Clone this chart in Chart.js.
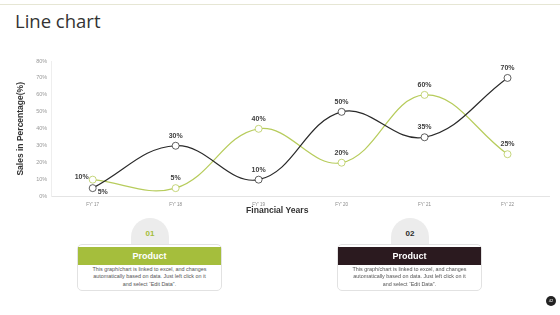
<!DOCTYPE html>
<html>
<head>
<meta charset="utf-8">
<script src="https://cdn.jsdelivr.net/npm/chart.js@4.4.1/dist/chart.umd.min.js"></script>
<style>
  html, body { margin: 0; padding: 0; background: #fff; }
  #page { position: relative; width: 560px; height: 315px; overflow: hidden; font-family: "Liberation Sans", Arial, sans-serif; }
  #topline { position: absolute; left: 0; top: 4px; width: 560px; height: 1px; background: #e6e6d4; }
  #title { position: absolute; left: 15px; top: 8px; font-family: "Open Sans", sans-serif; font-size: 18.5px; color: #333; }
  #chartBox { position: absolute; left: 0; top: 0; width: 560px; height: 220px; }
  #xTitle { position: absolute; left: 246px; top: 205px; font-size: 8.6px; font-weight: bold; color: #333; }
  .dome { position: absolute; top: 218px; width: 38px; height: 27px; background: #ececec; border-radius: 19px 19px 0 0; text-align: center; font-size: 8px; font-weight: bold; line-height: 31px; }
  .card { position: absolute; top: 244px; width: 145px; height: 47px; background: #fff; border: 1px solid #e2e2e2; border-radius: 5px; box-sizing: border-box; }
  .card .head { margin-top: 2px; height: 18px; color: #fff; font-weight: bold; font-size: 9px; text-align: center; line-height: 18px; }
  .card .body { font-size: 5.4px; color: #555; text-align: center; line-height: 7.3px; padding-top: 1px; }
  #pnum { position: absolute; left: 546px; top: 296px; width: 10px; height: 10px; border-radius: 5px; background: #222; color: #fff; font-size: 4px; text-align: center; line-height: 10px; }
</style>
</head>
<body>
<div id="page">
  <div id="topline"></div>
  <div id="title">Line chart</div>
  <div id="chartBox"><canvas id="lineChart"></canvas></div>
  <div id="xTitle">Financial Years</div>

  <div class="dome" style="left:131px; color:#a4bd3a;">01</div>
  <div class="card" style="left:77px;">
    <div class="head" style="background:#a5be3c;">Product</div>
    <div class="body">This graph/chart is linked to excel, and changes<br>automatically based on data. Just left click on it<br>and select “Edit Data”.</div>
  </div>

  <div class="dome" style="left:391px; color:#2a2a2a;">02</div>
  <div class="card" style="left:337px;">
    <div class="head" style="background:#2b1a1f;">Product</div>
    <div class="body">This graph/chart is linked to excel, and changes<br>automatically based on data. Just left click on it<br>and select “Edit Data”.</div>
  </div>

  <div id="pnum">42</div>
</div>
<script>
const years = ["FY' 17", "FY' 18", "FY' 19", "FY' 20", "FY' 21", "FY' 22"];
const seriesDark = [5, 30, 10, 50, 35, 70];
const seriesGreen = [10, 5, 40, 20, 60, 25];
const yTicks = [0, 10, 20, 30, 40, 50, 60, 70, 80];

// draws the "xx%" labels next to each point
const valueLabels = {
  id: 'valueLabels',
  afterDatasetsDraw(chart) {
    const ctx = chart.ctx;
    ctx.save();
    ctx.font = 'bold 7px "Liberation Sans", Arial, sans-serif';
    ctx.fillStyle = '#404040';
    ctx.textBaseline = 'middle';
    const sets = chart.data.datasets;
    sets.forEach((ds, di) => {
      const meta = chart.getDatasetMeta(di);
      meta.data.forEach((pt, i) => {
        const v = ds.data[i];
        const txt = v + '%';
        if (i === 0) {
          const other = sets[1 - di].data[0];
          if (v > other) {
            ctx.textAlign = 'right';
            ctx.fillText(txt, pt.x - 4, pt.y - 3);
          } else {
            ctx.textAlign = 'left';
            ctx.fillText(txt, pt.x + 5, pt.y + 4);
          }
        } else {
          ctx.textAlign = 'center';
          ctx.fillText(txt, pt.x, pt.y - 10);
        }
      });
    });
    ctx.restore();
  }
};

const config = {
  type: 'line',
  data: {
    labels: years,
    datasets: [
      {
        label: 'Series 1',
        data: seriesDark,
        borderColor: '#2a2a2a',
        borderWidth: 1.2,
        pointBackgroundColor: '#fff',
        pointBorderColor: '#3a3a3a',
        pointBorderWidth: 0.8,
        pointRadius: 3.5,
        tension: 0.4
      },
      {
        label: 'Series 2',
        data: seriesGreen,
        borderColor: '#b7cc5c',
        borderWidth: 1.2,
        pointBackgroundColor: '#fff',
        pointBorderColor: '#b7cc5c',
        pointBorderWidth: 0.8,
        pointRadius: 3.5,
        tension: 0.4
      }
    ]
  },
  options: {
    responsive: true,
    maintainAspectRatio: false,
    animation: false,
    layout: { padding: { left: 16, right: 11, top: 61, bottom: 8 } },
    plugins: {
      legend: { display: false },
      tooltip: { enabled: false }
    },
    scales: {
      x: {
        offset: true,
        grid: { display: false, drawTicks: false },
        border: { display: true, color: '#e4e4e4' },
        ticks: { color: '#888', font: { size: 4.5 }, padding: 5, maxRotation: 0 }
      },
      y: {
        min: 0,
        max: 80,
        afterBuildTicks(scale) { scale.ticks = yTicks.map(v => ({ value: v })); },
        grid: { display: false, drawTicks: false },
        border: { display: true, color: '#eeeeee' },
        ticks: { color: '#999', font: { size: 5.5 }, padding: 4, callback: v => v + '%' },
        title: {
          display: true,
          text: 'Sales in Percentage(%)',
          color: '#333',
          font: { size: 8.5, weight: 'bold' },
          padding: { top: 0, bottom: 6 }
        }
      }
    }
  },
  plugins: [valueLabels]
};

const lineChart = new Chart(document.getElementById('lineChart'), config);
</script>
</body>
</html>
